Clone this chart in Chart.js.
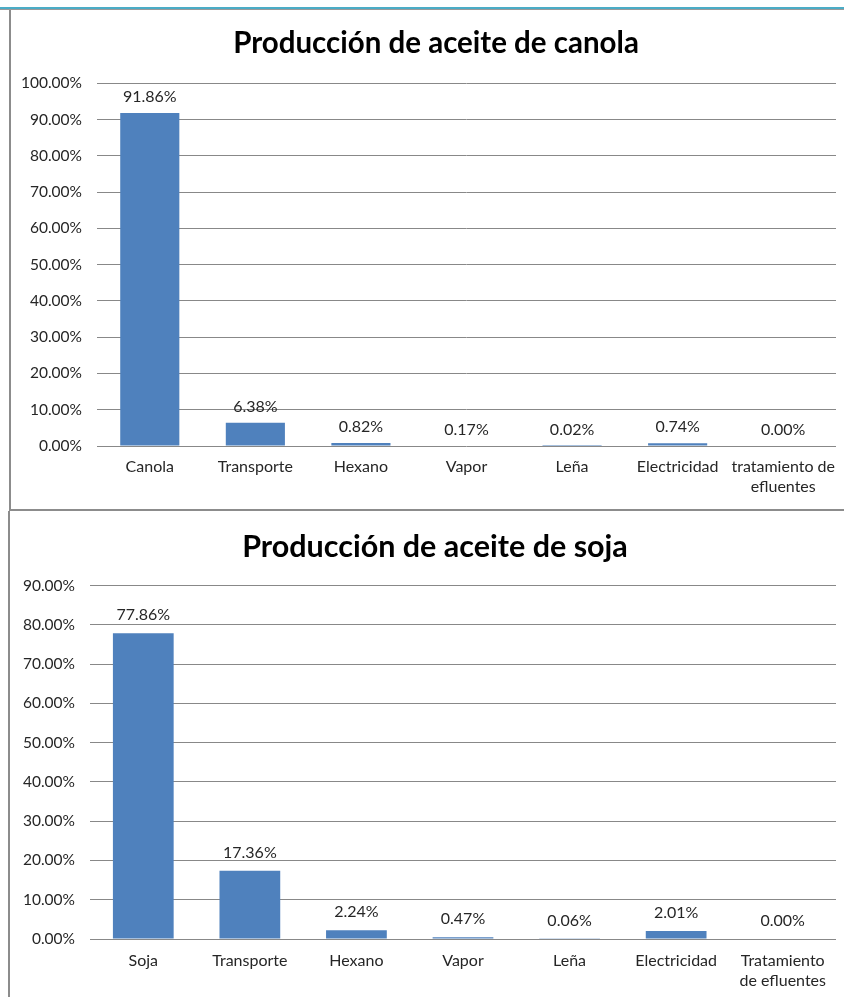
<!DOCTYPE html>
<html>
<head>
<meta charset="utf-8">
<script src="https://cdn.jsdelivr.net/npm/chart.js@4"></script>
<style>
  html, body { margin: 0; padding: 0; background: #fff; }
  body { width: 844px; height: 997px; position: relative; overflow: hidden; }
  .frame { position: absolute; box-sizing: border-box; }
  #topline { left: 0; width: 844px; height: 3px; top: 7px; background: #4bacc6; border-bottom: 1px solid #9a9a9a; }
  #box1 { left: 9px; top: 10px; width: 835px; height: 501px; border-left: 2px solid #8c8c8c; border-bottom: 2px solid #8c8c8c; }
  #box2 { left: 8px; top: 511px; width: 836px; height: 486px; border-left: 2px solid #8c8c8c; }
  .wrap { position: absolute; }
  #w1 { left: 11px; top: 10px; width: 850px; height: 499px; }
  #w2 { left: 11px; top: 512px; width: 848px; height: 485px; }
</style>
</head>
<body>
<div class="frame" id="topline"></div>
<div class="frame" id="box1"></div>
<div class="frame" id="box2"></div>
<div class="wrap" id="w1"><canvas id="canolaChart"></canvas></div>
<div class="wrap" id="w2"><canvas id="sojaChart"></canvas></div>
<script>
// Datos (porcentajes)
var canolaLabels = ['Canola', 'Transporte', 'Hexano', 'Vapor', 'Leña', 'Electricidad', ['tratamiento de', 'efluentes']];
var canolaValues = [91.86, 6.38, 0.82, 0.17, 0.02, 0.74, 0.00];
var canolaTicks = { max: 100, step: 10 };

var sojaLabels = ['Soja', 'Transporte', 'Hexano', 'Vapor', 'Leña', 'Electricidad', ['Tratamiento', 'de efluentes']];
var sojaValues = [77.86, 17.36, 2.24, 0.47, 0.06, 2.01, 0.00];
var sojaTicks = { max: 90, step: 10 };

var FONT = 'Lato, "Open Sans", sans-serif';
var TEXT = '#262626';

// Etiquetas de valor encima de cada barra
var valueLabels = {
    id: 'valueLabels',
    afterDatasetsDraw: function(chart, args, opts) {
        var ctx = chart.ctx;
        var meta = chart.getDatasetMeta(0);
        ctx.save();
        ctx.font = '16px ' + FONT;
        ctx.fillStyle = TEXT;
        ctx.textAlign = 'center';
        ctx.textBaseline = 'middle';
        meta.data.forEach(function(bar, i) {
            var v = chart.data.datasets[0].data[i];
            ctx.fillText(v.toFixed(2) + '%', bar.x, bar.y - opts.offset);
        });
        ctx.restore();
    }
};

function drawBarChart(id, title, labels, values, ticks, cfg) {
    var ctx = document.getElementById(id).getContext('2d');
    return new Chart(ctx, {
        type: 'bar',
        data: {
            labels: labels,
            datasets: [{
                data: values,
                backgroundColor: '#4f81bd',
                borderWidth: 0,
                barPercentage: cfg.barPct,
                categoryPercentage: 1
            }]
        },
        plugins: [valueLabels],
        options: {
            responsive: true,
            maintainAspectRatio: false,
            animation: false,
            layout: { padding: 0 },
            plugins: {
                legend: { display: false },
                tooltip: { enabled: false },
                title: {
                    display: true,
                    text: title,
                    color: '#000',
                    font: { family: FONT, size: cfg.titleSize, weight: 'bold', lineHeight: 1.2 },
                    padding: { top: cfg.titleTop, bottom: cfg.titleBottom }
                },
                valueLabels: { offset: cfg.labelOffset }
            },
            scales: {
                x: {
                    grid: { display: false },
                    border: { display: false },
                    ticks: {
                        color: TEXT,
                        font: { family: FONT, size: 16, lineHeight: 1.3 },
                        padding: cfg.xPad,
                        maxRotation: 0,
                        autoSkip: false
                    },
                    afterFit: function(scale) { scale.height = cfg.xHeight; }
                },
                y: {
                    min: 0,
                    max: ticks.max,
                    grid: { color: '#888888', lineWidth: 1, drawTicks: false },
                    border: { display: false },
                    ticks: {
                        stepSize: ticks.step,
                        color: TEXT,
                        padding: 15,
                        font: { family: FONT, size: 15.5 },
                        callback: function(v) { return v.toFixed(2) + '%'; }
                    },
                    afterFit: function(scale) { scale.width = cfg.yWidth; }
                },
                // eje vacio a la derecha: solo reserva espacio para que el titulo quede centrado
                margen: {
                    position: 'right',
                    grid: { display: false },
                    border: { display: false },
                    ticks: { display: false },
                    afterFit: function(scale) { scale.width = cfg.rightGap; }
                }
            }
        }
    });
}

drawBarChart('canolaChart', 'Producción de aceite de canola', canolaLabels, canolaValues, canolaTicks,
    { barPct: 0.56, titleSize: 29.5, titleTop: 16, titleBottom: 22, xHeight: 63, xPad: 2, yWidth: 86,
      rightGap: 25, labelOffset: 16 });

drawBarChart('sojaChart', 'Producción de aceite de soja', sojaLabels, sojaValues, sojaTicks,
    { barPct: 0.57, titleSize: 30.5, titleTop: 17, titleBottom: 20, xHeight: 58, xPad: 3, yWidth: 79,
      rightGap: 23, labelOffset: 18 });
</script>
</body>
</html>
